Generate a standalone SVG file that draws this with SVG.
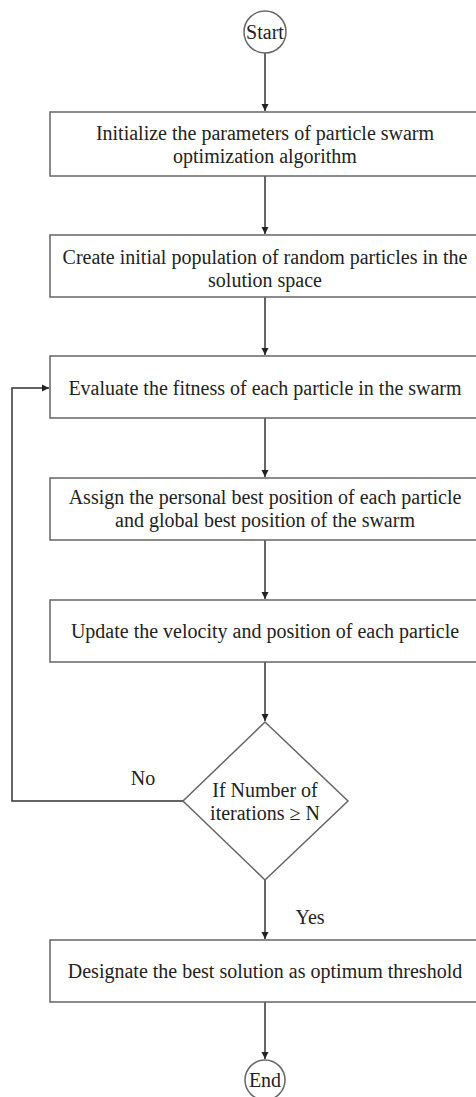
<svg xmlns="http://www.w3.org/2000/svg" width="476" height="1097" viewBox="0 0 476 1097">
<style>
.box{fill:#fff;stroke:#666;stroke-width:1.5}
.t{font-family:"Liberation Serif","Times New Roman",serif;font-size:20px;fill:#222;text-anchor:middle}
.c{fill:none;stroke:#333;stroke-width:1.5}
</style>
<defs>
<marker id="ah" markerWidth="8" markerHeight="8" refX="7" refY="4" orient="auto" markerUnits="userSpaceOnUse">
<path d="M0,0.5 L7,4 L0,7.5 Z" fill="#222"/>
</marker>
</defs>
<rect width="476" height="1097" fill="#fff"/>
<g id="connectors">
<line class="c" x1="265" y1="52" x2="265" y2="111" marker-end="url(#ah)"/>
<line class="c" x1="265" y1="176" x2="265" y2="234" marker-end="url(#ah)"/>
<line class="c" x1="265" y1="297" x2="265" y2="355" marker-end="url(#ah)"/>
<line class="c" x1="265" y1="418" x2="265" y2="477" marker-end="url(#ah)"/>
<line class="c" x1="265" y1="540" x2="265" y2="599" marker-end="url(#ah)"/>
<line class="c" x1="265" y1="662" x2="265" y2="721" marker-end="url(#ah)"/>
<line class="c" x1="265" y1="880" x2="265" y2="939" marker-end="url(#ah)"/>
<line class="c" x1="265" y1="1002" x2="265" y2="1059" marker-end="url(#ah)"/>
<polyline class="c" points="183,801 12,801 12,388 49,388" marker-end="url(#ah)"/>
<text class="t" x="143" y="785">No</text>
<text class="t" x="310" y="924">Yes</text>
</g>
<g id="start">
<circle cx="265" cy="32" r="21" class="box"/>
<text class="t" x="265" y="39">Start</text>
</g>
<g id="init">
<rect class="box" x="50" y="112" width="430" height="64"/>
<text class="t" x="265" y="140">Initialize the parameters of particle swarm</text>
<text class="t" x="265" y="163">optimization algorithm</text>
</g>
<g id="create">
<rect class="box" x="50" y="235" width="430" height="62"/>
<text class="t" x="265" y="264">Create initial population of random particles in the</text>
<text class="t" x="265" y="287">solution space</text>
</g>
<g id="evaluate">
<rect class="box" x="50" y="356" width="430" height="62"/>
<text class="t" x="265" y="395">Evaluate the fitness of each particle in the swarm</text>
</g>
<g id="assign">
<rect class="box" x="50" y="478" width="430" height="62"/>
<text class="t" x="265" y="504">Assign the personal best position of each particle</text>
<text class="t" x="265" y="527">and global best position of the swarm</text>
</g>
<g id="update">
<rect class="box" x="50" y="600" width="430" height="62"/>
<text class="t" x="265" y="638">Update the velocity and position of each particle</text>
</g>
<g id="decision">
<polygon class="box" points="265,722 348,801 265,880 183,801"/>
<text class="t" x="265" y="797">If Number of</text>
<text class="t" x="265" y="820">iterations ≥  N</text>
</g>
<g id="designate">
<rect class="box" x="50" y="940" width="430" height="62"/>
<text class="t" x="265" y="978">Designate the best solution as optimum threshold</text>
</g>
<g id="end">
<circle cx="265" cy="1080" r="20" class="box"/>
<text class="t" x="265" y="1087">End</text>
</g>
</svg>
